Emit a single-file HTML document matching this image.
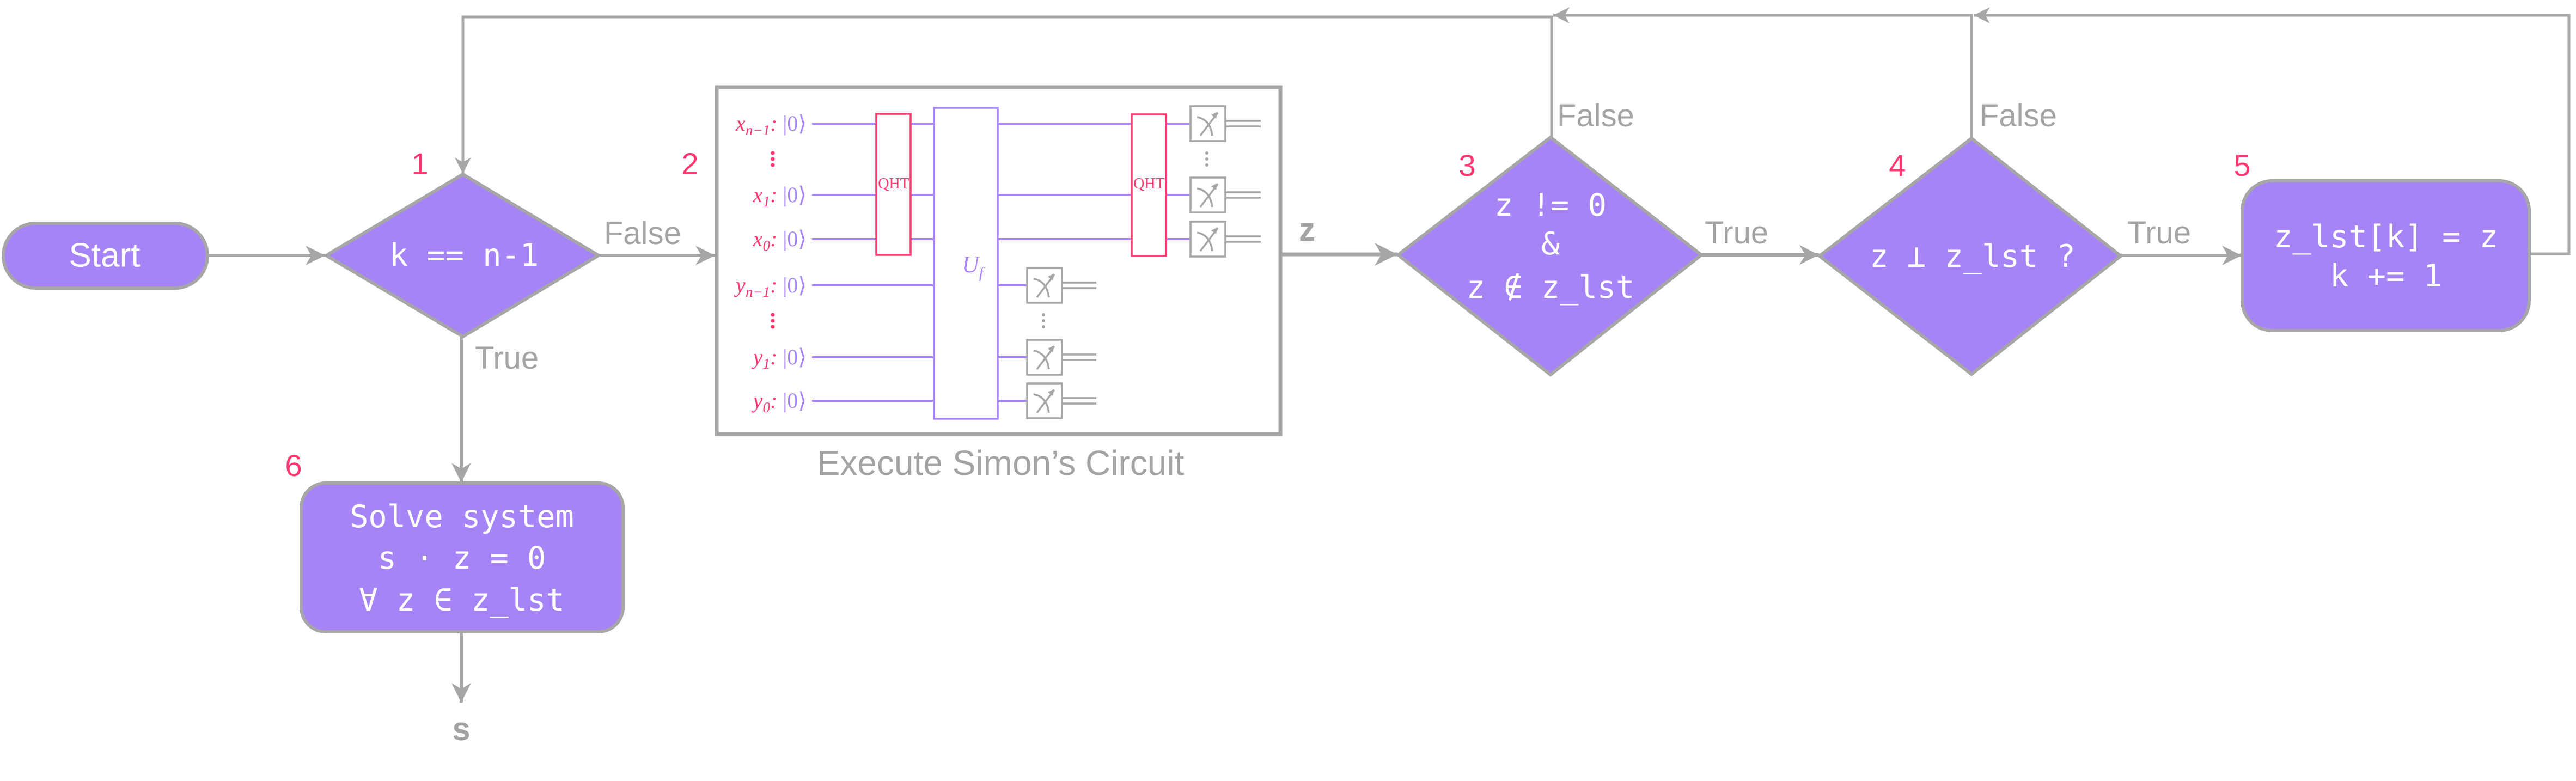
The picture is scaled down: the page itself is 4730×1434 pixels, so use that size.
<!DOCTYPE html>
<html><head><meta charset="utf-8"><style>
html,body{margin:0;padding:0;background:#fff;}
svg{display:block;}
.g{fill:#A3A3A3;font-family:"Liberation Sans",sans-serif;}
.m{fill:#fff;font-family:"DejaVu Sans Mono","Liberation Mono",monospace;font-size:57px;text-anchor:middle;dominant-baseline:central;}
.n{fill:#FF3670;font-family:"Liberation Sans",sans-serif;font-size:56px;text-anchor:middle;}
.lbl{font-family:"Liberation Serif",serif;font-size:40px;text-anchor:end;}
</style></head><body>
<svg width="4730" height="1434" viewBox="0 0 4730 1434" xmlns="http://www.w3.org/2000/svg">
<defs>
<marker id="ah" viewBox="0 0 10 10" refX="10" refY="5" markerWidth="6" markerHeight="6" orient="auto" markerUnits="strokeWidth">
<path d="M0,0 L10,5 L0,10 L3,5 Z" fill="#A6A6A6"/></marker>
<g id="meter">
<rect x="0" y="-32" width="64" height="64" fill="#fff" stroke="#A6A6A6" stroke-width="3.5"/>
<path d="M12,-12 Q36,-8 40,22" fill="none" stroke="#A6A6A6" stroke-width="3.5"/>
<path d="M18,22 L50,-20" stroke="#A6A6A6" stroke-width="3.5"/>
<path d="M50,-22 L38,-16 L47,-9 Z" fill="#A6A6A6"/>
</g>
</defs>
<g stroke="#A6A6A6" fill="none" stroke-width="6">
<line x1="381" y1="469" x2="597" y2="469" marker-end="url(#ah)"/>
<line x1="1099" y1="469" x2="1313" y2="469" marker-end="url(#ah)"/>
<line x1="2353" y1="467" x2="2566" y2="467" stroke-width="7" marker-end="url(#ah)"/>
<line x1="3124" y1="468" x2="3340" y2="468" marker-end="url(#ah)"/>
<line x1="3894" y1="469" x2="4116" y2="469" marker-end="url(#ah)"/>
<polyline points="4644,466 4717,466 4717,28 3624,28" stroke-width="5" marker-end="url(#ah)"/>
<polyline points="3620,254 3620,28 2852,28" stroke-width="5" marker-end="url(#ah)"/>
<polyline points="2849,252 2849,31 850,31 850,319" stroke-width="5" marker-end="url(#ah)"/>
<line x1="847" y1="618" x2="847" y2="886" marker-end="url(#ah)"/>
<line x1="847" y1="1160" x2="847" y2="1290" marker-end="url(#ah)"/>
</g>
<g fill="#A784F5" stroke="#A6A6A6" stroke-width="6">
<rect x="6" y="410" width="375" height="119" rx="59.5"/>
<polygon points="850,320 1099,469 850,618 599,469"/>
<polygon points="2847,252 3124,468 2847,688 2567,468"/>
<polygon points="3620,254 3894,470 3620,687 3341,470"/>
<rect x="4117" y="332" width="527" height="275" rx="55"/>
<rect x="553" y="887" width="591" height="273" rx="45"/>
</g>
<text x="192" y="469" fill="#fff" font-family="Liberation Sans,sans-serif" font-size="62" text-anchor="middle" dominant-baseline="central">Start</text>
<text class="m" x="852" y="469">k == n-1</text>
<text class="m" x="2847" y="377">z != 0</text>
<text class="m" x="2847" y="448">&amp;</text>
<text class="m" x="2847" y="528">z ∉ z_lst</text>
<text class="m" x="3622" y="471">z ⊥ z_lst ?</text>
<text class="m" x="4381" y="435">z_lst[k] = z</text>
<text class="m" x="4381" y="507">k += 1</text>
<text class="m" x="848" y="949">Solve system</text>
<text class="m" x="848" y="1025">s · z = 0</text>
<text class="m" x="848" y="1102">∀ z ∈ z_lst</text>
<text class="g" x="1109" y="448" font-size="58">False</text>
<text class="g" x="872" y="677" font-size="58">True</text>
<text class="g" x="2859" y="232" font-size="58">False</text>
<text class="g" x="3635" y="232" font-size="58">False</text>
<text class="g" x="3130" y="447" font-size="58">True</text>
<text class="g" x="3906" y="447" font-size="58">True</text>
<text class="g" x="2385" y="442" font-size="60" font-weight="bold">z</text>
<text class="g" x="847" y="1359" font-size="60" font-weight="bold" text-anchor="middle">s</text>
<text class="n" x="771" y="320">1</text>
<text class="n" x="1267" y="320">2</text>
<text class="n" x="2694" y="323">3</text>
<text class="n" x="3484" y="323">4</text>
<text class="n" x="4117" y="323">5</text>
<text class="n" x="539" y="874">6</text>
<text class="g" x="1837" y="872" font-size="64" text-anchor="middle">Execute Simon’s Circuit</text>
<rect x="1316" y="160" width="1035" height="637" fill="none" stroke="#A6A6A6" stroke-width="7"/>
<g stroke="#A684F7" stroke-width="4">
<line x1="1491" y1="227" x2="1609" y2="227"/><line x1="1672" y1="227" x2="1715" y2="227"/><line x1="1832" y1="227" x2="2078" y2="227"/><line x1="2141" y1="227" x2="2186" y2="227"/>
<line x1="1491" y1="358" x2="1609" y2="358"/><line x1="1672" y1="358" x2="1715" y2="358"/><line x1="1832" y1="358" x2="2078" y2="358"/><line x1="2141" y1="358" x2="2186" y2="358"/>
<line x1="1491" y1="439" x2="1609" y2="439"/><line x1="1672" y1="439" x2="1715" y2="439"/><line x1="1832" y1="439" x2="2078" y2="439"/><line x1="2141" y1="439" x2="2186" y2="439"/>
<line x1="1491" y1="524" x2="1715" y2="524"/><line x1="1832" y1="524" x2="1885" y2="524"/>
<line x1="1491" y1="656" x2="1715" y2="656"/><line x1="1832" y1="656" x2="1885" y2="656"/>
<line x1="1491" y1="736" x2="1715" y2="736"/><line x1="1832" y1="736" x2="1885" y2="736"/>
</g>
<rect x="1609" y="209" width="63" height="259" fill="#fff" stroke="#FF3B70" stroke-width="3.5"/>
<rect x="2078" y="210" width="63" height="260" fill="#fff" stroke="#FF3B70" stroke-width="3.5"/>
<rect x="1715" y="198" width="117" height="571" fill="#fff" stroke="#A684F7" stroke-width="3.5"/>
<text x="1641" y="346" fill="#FF3B70" font-family="Liberation Serif,serif" font-size="28" text-anchor="middle">QHT</text>
<text x="2110" y="346" fill="#FF3B70" font-family="Liberation Serif,serif" font-size="28" text-anchor="middle">QHT</text>
<text x="1766" y="500" fill="#A684F7" font-family="Liberation Serif,serif" font-size="44" font-style="italic">U<tspan font-size="28" dy="10">f</tspan></text>
<g class="lbl">
<text x="1481" y="240"><tspan fill="#FF3670" font-style="italic">x<tspan font-size="27" dy="8">n−1</tspan><tspan dy="-8">:</tspan></tspan><tspan fill="#A684F7"> |0⟩</tspan></text>
<text x="1481" y="371"><tspan fill="#FF3670" font-style="italic">x<tspan font-size="27" dy="8">1</tspan><tspan dy="-8">:</tspan></tspan><tspan fill="#A684F7"> |0⟩</tspan></text>
<text x="1481" y="452"><tspan fill="#FF3670" font-style="italic">x<tspan font-size="27" dy="8">0</tspan><tspan dy="-8">:</tspan></tspan><tspan fill="#A684F7"> |0⟩</tspan></text>
<text x="1481" y="537"><tspan fill="#FF3670" font-style="italic">y<tspan font-size="27" dy="8">n−1</tspan><tspan dy="-8">:</tspan></tspan><tspan fill="#A684F7"> |0⟩</tspan></text>
<text x="1481" y="669"><tspan fill="#FF3670" font-style="italic">y<tspan font-size="27" dy="8">1</tspan><tspan dy="-8">:</tspan></tspan><tspan fill="#A684F7"> |0⟩</tspan></text>
<text x="1481" y="749"><tspan fill="#FF3670" font-style="italic">y<tspan font-size="27" dy="8">0</tspan><tspan dy="-8">:</tspan></tspan><tspan fill="#A684F7"> |0⟩</tspan></text>
</g>
<g fill="#FF3670"><circle cx="1419" cy="281" r="3.5"/><circle cx="1419" cy="292" r="3.5"/><circle cx="1419" cy="303" r="3.5"/>
<circle cx="1419" cy="578" r="3.5"/><circle cx="1419" cy="589" r="3.5"/><circle cx="1419" cy="600" r="3.5"/></g>
<g fill="#A6A6A6"><circle cx="2216" cy="281" r="3"/><circle cx="2216" cy="292" r="3"/><circle cx="2216" cy="303" r="3"/>
<circle cx="1916" cy="578" r="3"/><circle cx="1916" cy="589" r="3"/><circle cx="1916" cy="600" r="3"/></g>
<g stroke="#A6A6A6" stroke-width="3.5">
<line x1="2250" y1="222" x2="2315" y2="222"/><line x1="2250" y1="232" x2="2315" y2="232"/>
<line x1="2250" y1="353" x2="2315" y2="353"/><line x1="2250" y1="363" x2="2315" y2="363"/>
<line x1="2250" y1="434" x2="2315" y2="434"/><line x1="2250" y1="444" x2="2315" y2="444"/>
<line x1="1950" y1="519" x2="2013" y2="519"/><line x1="1950" y1="529" x2="2013" y2="529"/>
<line x1="1950" y1="651" x2="2013" y2="651"/><line x1="1950" y1="661" x2="2013" y2="661"/>
<line x1="1950" y1="731" x2="2013" y2="731"/><line x1="1950" y1="741" x2="2013" y2="741"/>
</g>
<use href="#meter" x="2186" y="227"/><use href="#meter" x="2186" y="358"/><use href="#meter" x="2186" y="439"/>
<use href="#meter" x="1886" y="524"/><use href="#meter" x="1886" y="656"/><use href="#meter" x="1886" y="736"/>
</svg>
</body></html>
